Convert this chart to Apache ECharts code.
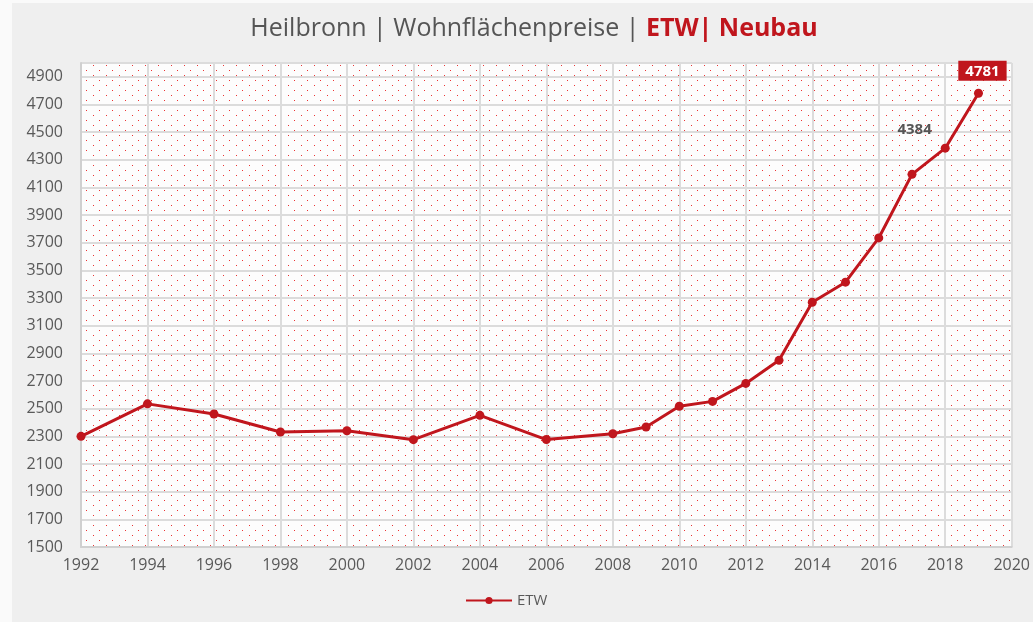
<!DOCTYPE html>
<html>
<head>
<meta charset="utf-8">
<script src="https://cdn.jsdelivr.net/npm/echarts@6/dist/echarts.min.js"></script>
<style>
	body { margin: 0; background: #fafafa; }
	#chart { position: absolute; left: 12px; top: 3px; width: 1021px; height: 619px; background: #efefef; }
</style>
</head>
<body>
<div id="chart"></div>

<script type="text/javascript">
	// Daten: Wohnflächenpreise ETW Neubau Heilbronn (Euro/m²)
	var jahre = [1992, 1994, 1996, 1998, 2000, 2002, 2004, 2006, 2008, 2009, 2010, 2011, 2012, 2013, 2014, 2015, 2016, 2017, 2018, 2019];
	var preise = [2300, 2535, 2462, 2332, 2341, 2276, 2452, 2277, 2319, 2368, 2518, 2553, 2683, 2850, 3270, 3415, 3735, 4195, 4384, 4781];
	var serieName = 'ETW';

	var rot = '#c0161d';

	// punktiertes Muster für den Plot-Hintergrund
	var muster = document.createElement('canvas');
	muster.width = 13;
	muster.height = 10;
	var ctx = muster.getContext('2d');
	ctx.fillStyle = '#fdfdfd';
	ctx.fillRect(0, 0, 13, 10);
	ctx.fillStyle = 'rgba(235,40,40,0.95)';
	ctx.fillRect(3, 2, 1, 1);
	ctx.fillRect(9, 7, 1, 1);

	var daten = [];
	for (var i = 0; i < jahre.length; i++) {
		var punkt = { value: [jahre[i], preise[i]] };
		if (i == jahre.length - 2) {
			punkt.label = {
				show: true, position: 'left', offset: [-4, -18],
				color: '#555', fontWeight: 'bold', fontSize: 15
			};
		}
		if (i == jahre.length - 1) {
			punkt.label = {
				show: true, position: 'top', offset: [4, -3],
				color: '#fff', fontWeight: 'bold', fontSize: 15,
				backgroundColor: rot, padding: [3, 7, 2, 7]
			};
		}
		daten.push(punkt);
	}

	var chart = echarts.init(document.getElementById('chart'));
	chart.setOption({
		animation: false,
		textStyle: { fontFamily: 'Open Sans' },
		title: {
			text: '{a|Heilbronn | Wohnflächenpreise | }{b|ETW| Neubau}',
			left: 517,
			textAlign: 'center',
			top: 8,
			textStyle: {
				rich: {
					a: { fontSize: 25, color: '#555', fontWeight: 'normal', fontFamily: 'Open Sans' },
					b: { fontSize: 25, color: rot, fontWeight: 'bold', fontFamily: 'Open Sans' }
				}
			}
		},
		legend: {
			bottom: 9,
			left: 448,
			itemWidth: 46,
			itemHeight: 9,
			itemGap: 4,
			textStyle: { color: '#595959', fontSize: 15 },
			data: [serieName]
		},
		grid: {
			left: 69, right: 17, top: 60, bottom: 75,
			show: true,
			borderWidth: 0,
			backgroundColor: { image: muster, repeat: 'repeat' }
		},
		xAxis: {
			type: 'value',
			min: 1992,
			max: 2020,
			interval: 2,
			axisLine: { show: true, lineStyle: { color: '#d0d0d0', width: 2 } },
			axisTick: { show: false },
			axisLabel: {
				color: '#595959', fontSize: 16, margin: 10,
				formatter: function (v) { return String(v); }
			},
			splitLine: { show: true, lineStyle: { color: '#dcdcdc', width: 2 } }
		},
		yAxis: {
			type: 'value',
			min: 1500,
			max: 5000,
			interval: 200,
			axisLine: { show: true, lineStyle: { color: '#d0d0d0', width: 2 } },
			axisTick: { show: false },
			axisLabel: {
				color: '#595959', fontSize: 16, margin: 18,
				formatter: function (v) { return v == 5000 ? '' : String(v); }
			},
			splitLine: { show: true, lineStyle: { color: '#dcdcdc', width: 2 } }
		},
		series: [{
			name: serieName,
			type: 'line',
			data: daten,
			symbol: 'circle',
			symbolSize: 9,
			lineStyle: { color: rot, width: 3 },
			itemStyle: { color: rot }
		}]
	});
</script>
</body>
</html>
